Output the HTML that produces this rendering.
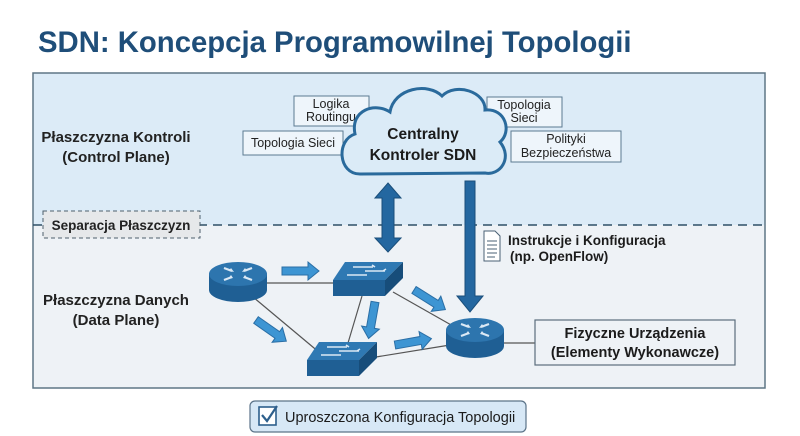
<!DOCTYPE html>
<html><head><meta charset="utf-8"><style>
body{margin:0;background:#fff;}
svg{display:block;font-family:"Liberation Sans",sans-serif;}
</style></head><body>
<svg width="800" height="436" viewBox="0 0 800 436" xmlns="http://www.w3.org/2000/svg">
<defs>
<g id="router">
 <path d="M-29,0 v16 a29,12 0 0 0 58,0 v-16 z" fill="#1f5f94"/>
 <ellipse cx="0" cy="0" rx="29" ry="12" fill="#2d75ae"/>
 <g stroke="#dbe9f5" stroke-width="2.2" fill="none">
  <path d="M-14,-6 l8,3 M14,-6 l-8,3 M-14,6 l8,-3 M14,6 l-8,-3"/>
 </g>
 <g fill="#dbe9f5"><path d="M-4,-2 l-5,-1 l2,-3z M4,-2 l5,-1 l-2,-3z M-10,5 l5,-1 l-2,-3z M10,5 l-5,-1 l2,-3z"/></g>
</g>
<g id="switch">
 <path d="M0,18 L52,18 L70,0 L12,0 Z" fill="#2f79b3"/>
 <rect x="0" y="18" width="52" height="16" fill="#1f5f94"/>
 <path d="M52,18 L70,0 L70,16 L52,34 Z" fill="#174d7a"/>
 <g stroke="#dbe9f5" stroke-width="1.6"><path d="M20,5 h20 M32,9 h20 M14,13 h20 M42,5 l-3,-2 M50,9 l3,-2"/></g>
</g>
<g id="barrow"><path d="M0,-4 h26 v-5 l11,9 l-11,9 v-5 h-26 z" fill="#3d95d3" stroke="#2a6ea5" stroke-width="1"/></g>
</defs>
<text x="38" y="52" font-size="29.3" font-weight="bold" fill="#1f4e79">SDN: Koncepcja Programowilnej Topologii</text>
<rect x="33" y="73" width="732" height="152" fill="#dcebf7"/>
<rect x="33" y="225" width="732" height="163" fill="#eef2f6"/>
<rect x="33" y="73" width="732" height="315" fill="none" stroke="#5e7685" stroke-width="1.5"/>
<line x1="33" y1="225" x2="765" y2="225" stroke="#2f4f66" stroke-width="1.6" stroke-dasharray="9,6"/>
<rect x="43" y="211" width="157" height="27" fill="#e6e8ea" stroke="#4d5f6c" stroke-dasharray="4,3"/>
<text x="121" y="230" font-size="13.5" font-weight="bold" text-anchor="middle" fill="#222">Separacja Płaszczyzn</text>
<g font-size="15" font-weight="bold" fill="#222" text-anchor="middle">
<text x="116" y="142">Płaszczyzna Kontroli</text><text x="116" y="162">(Control Plane)</text>
<text x="116" y="305">Płaszczyzna Danych</text><text x="116" y="325">(Data Plane)</text>
</g>
<g fill="#eef5fb" stroke="#5b7a92" stroke-width="1">
<rect x="294" y="96" width="75" height="30"/><rect x="243" y="131" width="100" height="24"/>
<rect x="487" y="97" width="75" height="30"/><rect x="511" y="131" width="110" height="31"/>
</g>
<g font-size="12.5" fill="#222" text-anchor="middle">
<text x="331" y="108">Logika</text><text x="331" y="121">Routingu</text>
<text x="293" y="147">Topologia Sieci</text>
<text x="524" y="109">Topologia</text><text x="524" y="122">Sieci</text>
<text x="566" y="143">Polityki</text><text x="566" y="157">Bezpieczeństwa</text>
</g>
<path d="M360,174 C338,174 336,140 355,134 C350,110 375,102 390,112 C394,88 428,82 442,96 C456,82 486,92 485,110 C506,108 512,132 500,142 C513,158 500,176 485,173 Z" fill="#dbebf7" stroke="#2a6a9c" stroke-width="3"/>
<g font-size="15.5" font-weight="bold" fill="#1b1b1b" text-anchor="middle">
<text x="423" y="139">Centralny</text><text x="423" y="160">Kontroler SDN</text>
</g>
<path d="M388,183 L401,198 L394,198 L394,238 L401,238 L388,252 L375,238 L382,238 L382,198 L375,198 Z" fill="#2467a0" stroke="#1a4e7a"/>
<path d="M465,181 h10 v115 h8 l-13,16 l-13,-16 h8 z" fill="#2467a0" stroke="#1a4e7a"/>
<path d="M484,231 h11 l5,5 v25 h-16 z" fill="#fff" stroke="#4a6074"/>
<g stroke="#4a6074" stroke-width="1"><path d="M487,241 h10 M487,245 h10 M487,249 h10 M487,253 h10 M487,257 h8"/></g>
<g font-size="13.5" font-weight="bold" fill="#1b1b1b">
<text x="508" y="245">Instrukcje i Konfiguracja</text><text x="510" y="261">(np. OpenFlow)</text>
</g>
<g stroke="#555" stroke-width="1.2">
<line x1="267" y1="283" x2="333" y2="283"/>
<line x1="253" y1="297" x2="320" y2="353"/>
<line x1="362" y1="296" x2="348" y2="343"/>
<line x1="393" y1="292" x2="460" y2="330"/>
<line x1="376" y1="357" x2="450" y2="345"/>
<line x1="504" y1="343" x2="535" y2="343"/>
</g>
<use href="#router" x="238" y="274"/>
<use href="#router" x="475" y="330"/>
<use href="#switch" x="333" y="262"/>
<use href="#switch" x="307" y="342"/>
<use href="#barrow" transform="translate(282,271)"/>
<use href="#barrow" transform="translate(414,290) rotate(32)"/>
<use href="#barrow" transform="translate(375,302) rotate(100)"/>
<use href="#barrow" transform="translate(256,320) rotate(35)"/>
<use href="#barrow" transform="translate(395,345) rotate(-10)"/>
<rect x="535" y="320" width="200" height="45" fill="#eef2f6" stroke="#5b6e7d" stroke-width="1.2"/>
<g font-size="14.5" font-weight="bold" fill="#1b1b1b" text-anchor="middle">
<text x="635" y="338">Fizyczne Urządzenia</text><text x="635" y="357">(Elementy Wykonawcze)</text>
</g>
<rect x="250" y="401" width="276" height="31" rx="5" fill="#d7e8f6" stroke="#5b7388" stroke-width="1.2"/>
<rect x="259" y="407" width="17" height="18" fill="#fff" stroke="#2d5f8c" stroke-width="1.6"/>
<path d="M262,415 l5,6 l10,-15" fill="none" stroke="#2d5f8c" stroke-width="2.2"/>
<text x="285" y="422" font-size="14.5" fill="#1b1b1b">Uproszczona Konfiguracja Topologii</text>
</svg>
</body></html>
